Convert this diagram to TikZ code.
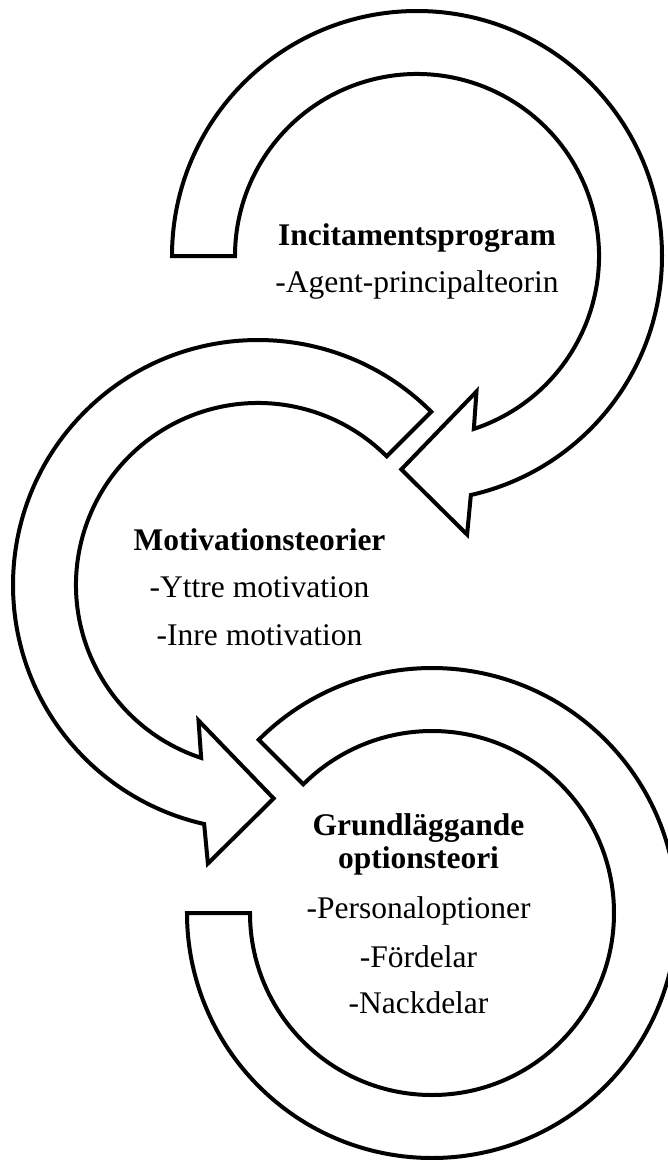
\documentclass[tikz,border=0pt]{standalone}
\usepackage{fontspec}
\setmainfont{Liberation Serif}
\begin{document}
\begin{tikzpicture}[x=1pt,y=1pt,
  ring/.style={draw=black, line width=4pt, fill=white},
  lbl/.style={font=\fontsize{31.5}{36}\selectfont, anchor=base, inner sep=0pt},
  ttl/.style={lbl, font=\fontsize{31.5}{36}\selectfont\bfseries}]
\useasboundingbox (0,0) rectangle (668,-1160);
\clip (0,0) rectangle (668,-1160);
% centres of the three circular arrows
\coordinate (c1) at (417,-256);
\coordinate (c2) at (258,-585);
\coordinate (c3) at (432,-913);
% arrow 1 (top, clockwise)
\draw[ring] ([shift={(180:245)}]c1) arc[start angle=180, end angle=-77.3, radius=245]
  -- ([shift={(-79.8:283)}]c1) -- ([shift={(-94.2:214)}]c1) -- ([shift={(-66.3:148)}]c1)
  -- ([shift={(-71.8:182)}]c1) arc[start angle=-71.8, end angle=180, radius=182] -- cycle;
% arrow 2 (middle, counter-clockwise)
\draw[ring] ([shift={(45:245)}]c2) arc[start angle=45, end angle=257.3, radius=245]
  -- ([shift={(259.8:283)}]c2) -- ([shift={(274.2:214)}]c2) -- ([shift={(246.3:148)}]c2)
  -- ([shift={(251.8:182)}]c2) arc[start angle=251.8, end angle=45, radius=182] -- cycle;
% arrow 3 (bottom, no head)
\draw[ring] ([shift={(135:245)}]c3) arc[start angle=135, end angle=-180, radius=245]
  -- ([shift={(180:182)}]c3) arc[start angle=-180, end angle=135, radius=182] -- cycle;
% texts
\node[ttl] (t1) at (417,-245) {Incitamentsprogram};
\node[lbl] (t1a) at (417,-292) {-Agent-principalteorin};
\node[ttl] (t2) at (259.5,-550) {Motivationsteorier};
\node[lbl] (t2a) at (259.5,-597) {-Yttre motivation};
\node[lbl] (t2b) at (259.5,-645) {-Inre motivation};
\node[ttl] (t3) at (418.5,-835) {Grundläggande};
\node[ttl] (t3b) at (418.5,-868) {optionsteori};
\node[lbl] (t3c) at (418.5,-918) {-Personaloptioner};
\node[lbl] (t3d) at (418.5,-967) {-Fördelar};
\node[lbl] (t3e) at (418.5,-1013) {-Nackdelar};
\end{tikzpicture}
\end{document}
